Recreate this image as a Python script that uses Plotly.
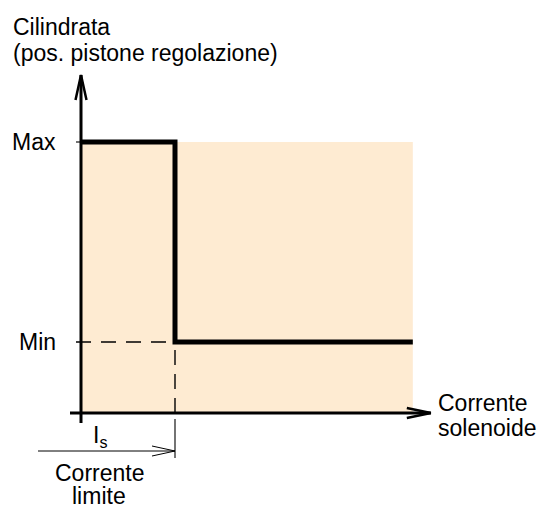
import plotly.graph_objects as go

# valori del diagramma (unita' arbitrarie)
corrente = [0.0, 1.0, 1.0, 3.53]      # corrente solenoide
cilindrata = [1.0, 1.0, 0.262, 0.262]  # posizione pistone
I_S = 1.0
MAX = 1.0
MIN = 0.262
I_FINE = 3.53
livelli = ["Max", "Min"]

# scala: pixel per unita', origine degli assi in pixel
SX = 94.0
SY = 271.0
X0_PX = 81.0
Y0_PX = 413.0
W, H = 541, 505


def dx(px):
    return px / SX


def dy(px):
    return px / SY


def px_x(px):
    return (px - X0_PX) / SX


def px_y(py):
    return (Y0_PX - py) / SY


FONT = dict(family="Liberation Sans, Arial, Helvetica, sans-serif", size=23, color="black")
fig = go.Figure()

# area colorata
fig.add_shape(type="rect", x0=0, x1=I_FINE, y0=0, y1=MAX, fillcolor="#FEEBD2",
              line=dict(width=0), layer="below")

# linee tratteggiate
fig.add_trace(go.Scatter(x=[-dx(5), I_S], y=[MIN, MIN], mode="lines",
                         line=dict(color="black", width=1.4, dash="15px,10px")))
fig.add_trace(go.Scatter(x=[I_S, I_S], y=[0, MIN], mode="lines",
                         line=dict(color="black", width=1.4, dash="15px,9px")))
fig.add_trace(go.Scatter(x=[I_S, I_S], y=[-dy(6), -dy(45)], mode="lines",
                         line=dict(color="black", width=1.1)))
# tacca Max
fig.add_trace(go.Scatter(x=[-dx(5), 0], y=[MAX, MAX], mode="lines",
                         line=dict(color="black", width=1.1)))

# assi
fig.add_trace(go.Scatter(x=[0, 0], y=[-dy(10), MAX + dy(67)], mode="lines",
                         line=dict(color="black", width=3)))
fig.add_trace(go.Scatter(x=[-dx(11), I_FINE + dx(18)], y=[0, 0], mode="lines",
                         line=dict(color="black", width=3)))
# punte delle frecce
ytip = MAX + dy(67)
fig.add_trace(go.Scatter(x=[-dx(5.5), 0, dx(5.5)], y=[ytip - dy(25), ytip, ytip - dy(25)],
                         mode="lines", line=dict(color="black", width=2.5)))
xtip = I_FINE + dx(18)
fig.add_trace(go.Scatter(x=[xtip - dx(24), xtip, xtip - dx(24)], y=[dy(5), 0, -dy(5)],
                         mode="lines", line=dict(color="black", width=2.5)))

# freccia Is
yis = -dy(38)
fig.add_trace(go.Scatter(x=[-dx(43), I_S], y=[yis, yis], mode="lines",
                         line=dict(color="black", width=1)))
fig.add_trace(go.Scatter(x=[I_S - dx(23), I_S, I_S - dx(23)], y=[yis + dy(5), yis, yis - dy(5)],
                         mode="lines", line=dict(color="black", width=1)))

# curva a gradino
fig.add_trace(go.Scatter(x=corrente, y=cilindrata, mode="lines",
                         line=dict(color="black", width=5)))

ann = [
    dict(x=px_x(11), y=px_y(27), text="Cilindrata", xanchor="left"),
    dict(x=px_x(11), y=px_y(53), text="(pos. pistone regolazione)", xanchor="left"),
    dict(x=px_x(58), y=MAX, text=livelli[0], xanchor="right"),
    dict(x=px_x(58), y=MIN, text=livelli[1], xanchor="right"),
    dict(x=px_x(436), y=px_y(403), text="Corrente", xanchor="left"),
    dict(x=px_x(436), y=px_y(428), text="solenoide", xanchor="left"),
    dict(x=px_x(100), y=px_y(436), text="I<sub>s</sub>", xanchor="center"),
    dict(x=px_x(99), y=px_y(473), text="Corrente", xanchor="center"),
    dict(x=px_x(99), y=px_y(496), text="limite", xanchor="center"),
]
for a in ann:
    fig.add_annotation(x=a["x"], y=a["y"], text=a["text"], xanchor=a["xanchor"],
                       yanchor="middle", showarrow=False, font=FONT)

fig.update_layout(
    width=W, height=H,
    margin=dict(l=0, r=0, t=0, b=0),
    plot_bgcolor="white", paper_bgcolor="white",
    showlegend=False,
    hovermode=False,
    xaxis=dict(visible=False, range=[px_x(0), px_x(W)], fixedrange=True),
    yaxis=dict(visible=False, range=[px_y(H), px_y(0)], fixedrange=True),
)
fig.write_html("out.html", config={"displayModeBar": False},
               post_script="document.body.style.margin='0';document.body.style.overflow='hidden';")
